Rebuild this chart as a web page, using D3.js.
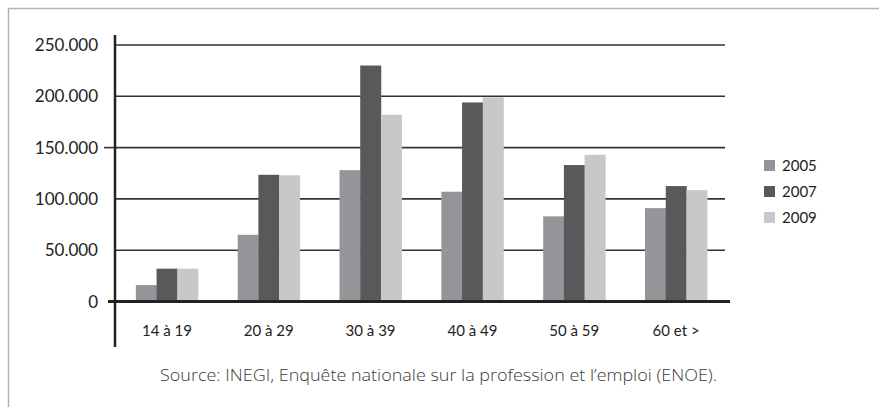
<!DOCTYPE html>
<html>
<head>
<meta charset="utf-8">
<script src="https://cdn.jsdelivr.net/npm/d3@7"></script>
<style>
  html, body { margin: 0; padding: 0; background: #fff; }
  svg { display: block; }
  text { font-family: Lato, "Open Sans", sans-serif; }
</style>
</head>
<body>
<svg id="chart" width="879" height="407"></svg>
<script>
const categories = ["14 à 19", "20 à 29", "30 à 39", "40 à 49", "50 à 59", "60 et >"];
const seriesNames = ["2005", "2007", "2009"];
const values2005 = [16000, 65000, 128000, 107000, 83000, 91000];
const values2007 = [32000, 123500, 230000, 194000, 133000, 112500];
const values2009 = [32000, 123000, 182000, 199000, 143000, 108500];
const yTicks = [0, 50000, 100000, 150000, 200000, 250000];
const seriesColors = ["#939598", "#58595b", "#c7c8ca"];
const sourceText = "Source: INEGI, Enquête nationale sur la profession et l’emploi (ENOE).";

const seriesValues = [values2005, values2007, values2009];
const svg = d3.select("#chart");

// frame
svg.append("path")
  .attr("d", "M8.5,420 L8.5,8.5 L900,8.5")
  .attr("fill", "none").attr("stroke", "#b3b3b3").attr("stroke-width", 1.5);

const x = d3.scaleBand().domain(categories).range([116, 727]).paddingInner(0.39).paddingOuter(0.195);
const xs = d3.scaleBand().domain(seriesNames).range([0, x.bandwidth()]).padding(0);
const y = d3.scaleLinear().domain([0, 250000]).range([301.5, 45]);
const fmt = v => d3.format(",")(v).replace(/,/g, ".");

// gridlines
svg.append("g").selectAll("line").data(yTicks.filter(t => t > 0)).join("line")
  .attr("x1", 115).attr("x2", 725)
  .attr("y1", d => y(d)).attr("y2", d => y(d))
  .attr("stroke", "#333").attr("stroke-width", 1.6);

// bars
const groups = svg.append("g").selectAll("g").data(categories).join("g")
  .attr("transform", d => `translate(${x(d)},0)`);
groups.selectAll("rect")
  .data((c, i) => seriesNames.map((s, j) => ({s, j, v: seriesValues[j][i]})))
  .join("rect")
  .attr("x", d => xs(d.s))
  .attr("width", xs.bandwidth() + 0.3)
  .attr("y", d => y(d.v))
  .attr("height", d => y(0) - y(d.v))
  .attr("fill", d => seriesColors[d.j]);

// x axis (zero line)
svg.append("line").attr("x1", 108).attr("x2", 730)
  .attr("y1", y(0)).attr("y2", y(0))
  .attr("stroke", "#222").attr("stroke-width", 3);
// tick at 150k
svg.append("line").attr("x1", 104).attr("x2", 115)
  .attr("y1", y(150000)).attr("y2", y(150000))
  .attr("stroke", "#333").attr("stroke-width", 1.6);
// y axis line
svg.append("line").attr("x1", 115).attr("x2", 115)
  .attr("y1", 35).attr("y2", 347)
  .attr("stroke", "#222").attr("stroke-width", 2.5);

// y tick labels
svg.append("g").selectAll("text").data(yTicks).join("text")
  .attr("x", 98).attr("y", d => y(d) + 6)
  .attr("text-anchor", "end")
  .attr("font-size", 17).attr("fill", "#222")
  .text(d => fmt(d));

// x labels
svg.append("g").selectAll("text").data(categories).join("text")
  .attr("x", d => x(d) + x.bandwidth() / 2).attr("y", 336)
  .attr("text-anchor", "middle")
  .attr("font-size", 15).attr("fill", "#222")
  .text(d => d);

// legend
const lg = svg.append("g").selectAll("g").data(seriesNames).join("g")
  .attr("transform", (d, i) => `translate(764,${165.5 + i * 26})`);
lg.append("rect").attr("x", 0).attr("y", -5.5).attr("width", 11).attr("height", 11)
  .attr("fill", (d, i) => seriesColors[i]);
lg.append("text").attr("x", 18).attr("y", 5.5)
  .attr("font-size", 15).attr("fill", "#222").text(d => d);

// source
svg.append("text").attr("x", 160).attr("y", 381)
  .attr("text-anchor", "start").attr("font-size", 16)
  .style("font-family", "'Open Sans', sans-serif").attr("font-weight", 300)
  .attr("textLength", 557).attr("lengthAdjust", "spacingAndGlyphs")
  .attr("fill", "#3a3a3a").text(sourceText);
</script>
</body>
</html>
